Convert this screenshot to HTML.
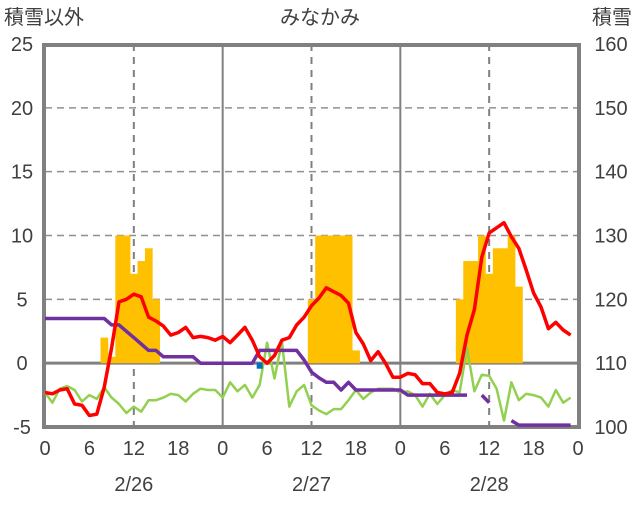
<!DOCTYPE html>
<html><head><meta charset="utf-8"><style>
body{margin:0;background:#fff;}
svg text{font-family:"Liberation Sans","Noto Sans CJK JP",sans-serif;fill:#404040;font-size:20px;}
</style></head><body>
<svg id="chart" width="636" height="501" xmlns="http://www.w3.org/2000/svg">
<text x="4" y="24">積雪以外</text>
<text x="320" y="24" text-anchor="middle">みなかみ</text>
<text x="632" y="24" text-anchor="end">積雪</text>
<g id="grid"></g><g id="bars"></g>
<rect x="44" y="45" width="535" height="382" fill="none" stroke="#808080" stroke-width="4"/>
<g id="lines"></g>
<g id="labels"></g>
</svg>
<script>
const precipHours=[8,9,10,11,12,13,14,15,36,37,38,39,40,41,42,56,57,58,59,60,61,62,63,64];
const precipValues=[2,0.5,10,10,7,8,9,5,5,10,10,10,10,10,1,5,8,8,10,7,9,9,10,6];
const temperature=[-2.3,-2.4,-2.1,-2.0,-3.2,-3.3,-4.1,-4.0,-1.9,1.2,4.8,5.0,5.4,5.2,3.6,3.3,2.9,2.2,2.4,2.8,2.0,2.1,2.0,1.8,
2.1,1.6,2.2,2.8,1.8,0.5,0,0.6,1.8,2.0,3.0,3.6,4.5,5.1,5.9,5.6,5.3,4.7,2.4,1.5,0.2,0.9,0,-1.1,
-1.1,-0.8,-0.9,-1.6,-1.6,-2.3,-2.4,-2.3,-0.8,2.2,4.2,8.3,10.2,10.6,11.0,9.9,9.0,7.3,5.5,4.4,2.7,3.2,2.6,2.2];
const wind=[-2.3,-3.1,-2.0,-1.8,-2.1,-3.0,-2.5,-2.8,-1.9,-2.7,-3.2,-3.9,-3.4,-3.8,-2.9,-2.9,-2.7,-2.4,-2.5,-3.0,-2.4,-2.0,-2.1,-2.1,
-2.7,-1.5,-2.2,-1.7,-2.7,-1.7,1.6,-1.2,1.7,-3.4,-2.2,-1.7,-3.3,-3.7,-4.0,-3.6,-3.6,-2.9,-2.1,-2.8,-2.3,-2.0,-2.0,-2.0,
-2.3,-2.2,-2.5,-3.4,-2.4,-3.2,-2.5,-2.1,-2.3,1.2,-2.2,-0.9,-1.0,-2.0,-4.5,-1.5,-2.9,-2.4,-2.5,-2.7,-3.4,-2.1,-3.1,-2.7];
const snowDepth=[117,117,117,117,117,117,117,117,117,116,116,115,114,113,112,112,111,111,111,111,111,110,110,110,
110,110,110,110,110,112,112,112,112,112,112,110.5,108.6,107.7,107,107,105.8,107,105.8,105.8,105.8,105.8,105.8,105.8,
105.8,105,105,105,105,105,105,105,105,105,null,105,103.8,null,null,101,100.3,100.3,100.3,100.3,100.3,100.3,100.3,100.3];
const markerHour=[29];const markerValue=[-0.2];
const leftTicks=[-5,0,5,10,15,20,25];
const rightTicks=[100,110,120,130,140,150,160];
const hourLabels=[0,6,12,18,0,6,12,18,0,6,12,18,0];
const dateLabels=["2/26","2/27","2/28"];
const NS="http://www.w3.org/2000/svg";
const X0=45,X1=578,Y0=427,Y1=44;
const x=h=>X0+(X1-X0)*h/72;
const y=v=>Y0-(v+5)/30*(Y0-Y1);
const yr=v=>Y0-(v-100)/60*(Y0-Y1);
function mk(tag,attrs,parent){const e=document.createElementNS(NS,tag);for(const k in attrs)e.setAttribute(k,attrs[k]);document.getElementById(parent).appendChild(e);return e;}
leftTicks.forEach(v=>{if(v===-5||v===25)return;
 const l=mk('line',{x1:X0,x2:X1,y1:y(v),y2:y(v),stroke:v===0?'#808080':'#909090','stroke-width':v===0?3:1.5,'stroke-dasharray':v===0?'none':'7,5'},'grid');
 
 });
[12,24,36,48,60].forEach(h=>{const solid=h%24===0;
 const l=mk('line',{x1:x(h),x2:x(h),y1:Y1,y2:Y0,stroke:'#808080','stroke-width':2,'stroke-dasharray':solid?'none':'7,6'},'grid');
 
 });
const bw=(X1-X0)/72;
precipHours.forEach((h,i)=>{const v=precipValues[i];
 const r=mk('rect',{x:x(h)-bw/2,y:y(v),width:bw+0.3,height:y(0)-y(v),fill:'#FFC000'},'bars');
 
 });
function path(arr,fy,color,w,name){let d='',pen=false;
 arr.forEach((v,i)=>{if(v===null){pen=false;return;}d+=(pen?'L':'M')+x(i).toFixed(1)+','+fy(v).toFixed(1);pen=true;});
 const p=mk('path',{d:d,fill:'none',stroke:color,'stroke-width':w,'stroke-linejoin':'round'},'lines');
 
 }
path(wind,y,'#92D050',2.5,'wind-line');
path(snowDepth,yr,'#7030A0',3.5,'snow-depth-line');
path(temperature,y,'#FF0000',3.5,'temperature-line');
markerHour.forEach((h,i)=>{const m=mk('rect',{x:x(h)-3,y:y(markerValue[i])-3,width:6,height:6,fill:'#0070C0'},'lines');
 
 });
leftTicks.forEach(v=>{const t=mk('text',{x:22,y:y(v)+7,'text-anchor':'middle'},'labels');t.textContent=v;
 
 });
rightTicks.forEach(v=>{const t=mk('text',{x:611,y:yr(v)+7,'text-anchor':'middle'},'labels');t.textContent=v;
 
 });
hourLabels.forEach((v,i)=>{const t=mk('text',{x:x(i*6),y:455,'text-anchor':'middle'},'labels');t.textContent=v;
 
 });
dateLabels.forEach((v,i)=>{const t=mk('text',{x:x(12+24*i),y:491,'text-anchor':'middle'},'labels');t.textContent=v;
 
 });
</script>
</body></html>
